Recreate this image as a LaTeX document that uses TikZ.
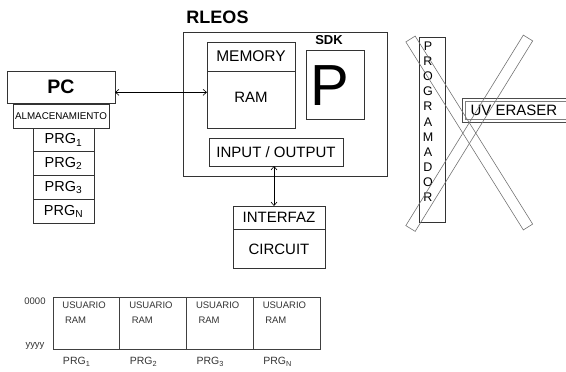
\documentclass[tikz,border=0pt]{standalone}
\usepackage{fontspec}
\setmainfont{Liberation Sans}
\usetikzlibrary{arrows.meta,calc}
\begin{document}
\begin{tikzpicture}[x=1pt,y=-1pt,
  every node/.style={inner sep=0pt,outer sep=0pt},
  box/.style={draw=black!80,line width=0.7pt,rectangle},
  band/.style={draw=black!55,line width=0.6pt},
  arr/.style={black,line width=0.6pt,{Straight Barb[length=3.5pt,width=6pt]}-{Straight Barb[length=3.5pt,width=6pt]}},
  fs/.style={font=\fontsize{#1}{#1}\selectfont},
  fsb/.style={font=\fontsize{#1}{#1}\selectfont\bfseries},
  small/.style={font=\fontsize{9.5}{10}\selectfont,text=black!80}
]
\useasboundingbox (0,0) rectangle (566,372);

% PC side
\node[box,minimum width=108pt,minimum height=32pt,fsb=19.5] (pc) at (61,87) {PC};
\node[box,minimum width=96pt,minimum height=24pt,fs=9.8] (alm) at (61,116) {ALMACENAMIENTO};
\foreach \s [count=\k from 0] in {1,2,3,N}
  \node[box,minimum width=61pt,minimum height=23.75pt,fs=14.5] (prg\k) at (63.5,{139.9+23.75*\k}) {PRG\textsubscript{\s}};

% RLEOS
\node[fsb=18] (title) at (217.5,17.5) {RLEOS};
\node[box,minimum width=204pt,minimum height=144pt] (rleos) at (285,104) {};
\node[box,minimum width=88pt,minimum height=86pt] (mem) at (251,85) {};
\coordinate (d1) at (0,71);
\draw[black!80,line width=0.7pt] (mem.west |- d1) -- (mem.east |- d1);
\node[fs=15.5] (memt) at (251,56.5) {MEMORY};
\node[fs=15] (ramt) at (251,97) {RAM};
\node[fsb=13] (sdkt) at (329,40.5) {SDK};
\node[box,minimum width=58pt,minimum height=69pt] (sdk) at (335,84.5) {};
\node[fs=58] (p) at (330,86) {P};
\node[box,minimum width=134pt,minimum height=28pt,fs=15] (io) at (276,152) {INPUT / OUTPUT};
\node[box,minimum width=92pt,minimum height=62pt] (intf) at (279,237) {};
\coordinate (d2) at (0,229);
\draw[black!80,line width=0.7pt] (intf.west |- d2) -- (intf.east |- d2);
\node[fs=15] (intt) at (279,217.5) {INTERFAZ};
\node[fs=15] (cirt) at (279,249) {CIRCUIT};

% connectors
\coordinate (ay) at (0,92.3);
\draw[arr] (pc.east |- ay) -- (mem.west |- ay);
\coordinate (ax) at (274,0);
\draw[arr] (io.south -| ax) -- (intf.north -| ax);

% PROGRAMADOR
\node[box,minimum width=26pt,minimum height=185pt] (prog) at (432,129.5) {};
\foreach \c [count=\k from 0] in {P,R,O,G,R,A,M,A,D,O,R}
  \node[fs=12.5] (pl\k) at (428,{46+15.15*\k}) {\c};

% UV ERASER
\draw[draw=black!70,line width=0.8pt] (462,98) -- (575,98) (462,98) -- (462,122) -- (575,122);
\draw[draw=black!50,line width=0.8pt] (465,101) -- (575,101) (465,101) -- (465,119) -- (575,119);
\node[fs=15] (uvt) at (514,110) {UV ERASER};

% crossed bands
\coordinate (b1a) at (410.5,39); \coordinate (b1b) at (528,227);
\draw[band] ($(b1a)!5.5pt!90:(b1b)$) -- ($(b1b)!5.5pt!-90:(b1a)$) -- ($(b1b)!5.5pt!90:(b1a)$) -- ($(b1a)!5.5pt!-90:(b1b)$) -- cycle;
\coordinate (b2a) at (528,38); \coordinate (b2b) at (410.5,228.5);
\draw[band] ($(b2a)!5.5pt!90:(b2b)$) -- ($(b2b)!5.5pt!-90:(b2a)$) -- ($(b2b)!5.5pt!90:(b2a)$) -- ($(b2a)!5.5pt!-90:(b2b)$) -- cycle;

% memory map
\node[small] (z0) at (35,301) {0000};
\node[small] (zy) at (35,346) {yyyy};
\foreach \s [count=\k from 0] in {1,2,3,N} {
  \node[draw=black!75,line width=0.6pt,minimum width=66.75pt,minimum height=52pt] (u\k) at ({86.375+66.75*\k},323) {};
  \node[small,anchor=west] (ut\k) at ({62.5+66.75*\k},305) {USUARIO};
  \node[small,anchor=west] (ur\k) at ({65+66.75*\k},320) {RAM};
  \node[small,font=\fontsize{10.5}{11}\selectfont,anchor=west] (up\k) at ({63+66.75*\k},362) {PRG\textsubscript{\s}};
}
\end{tikzpicture}
\end{document}
